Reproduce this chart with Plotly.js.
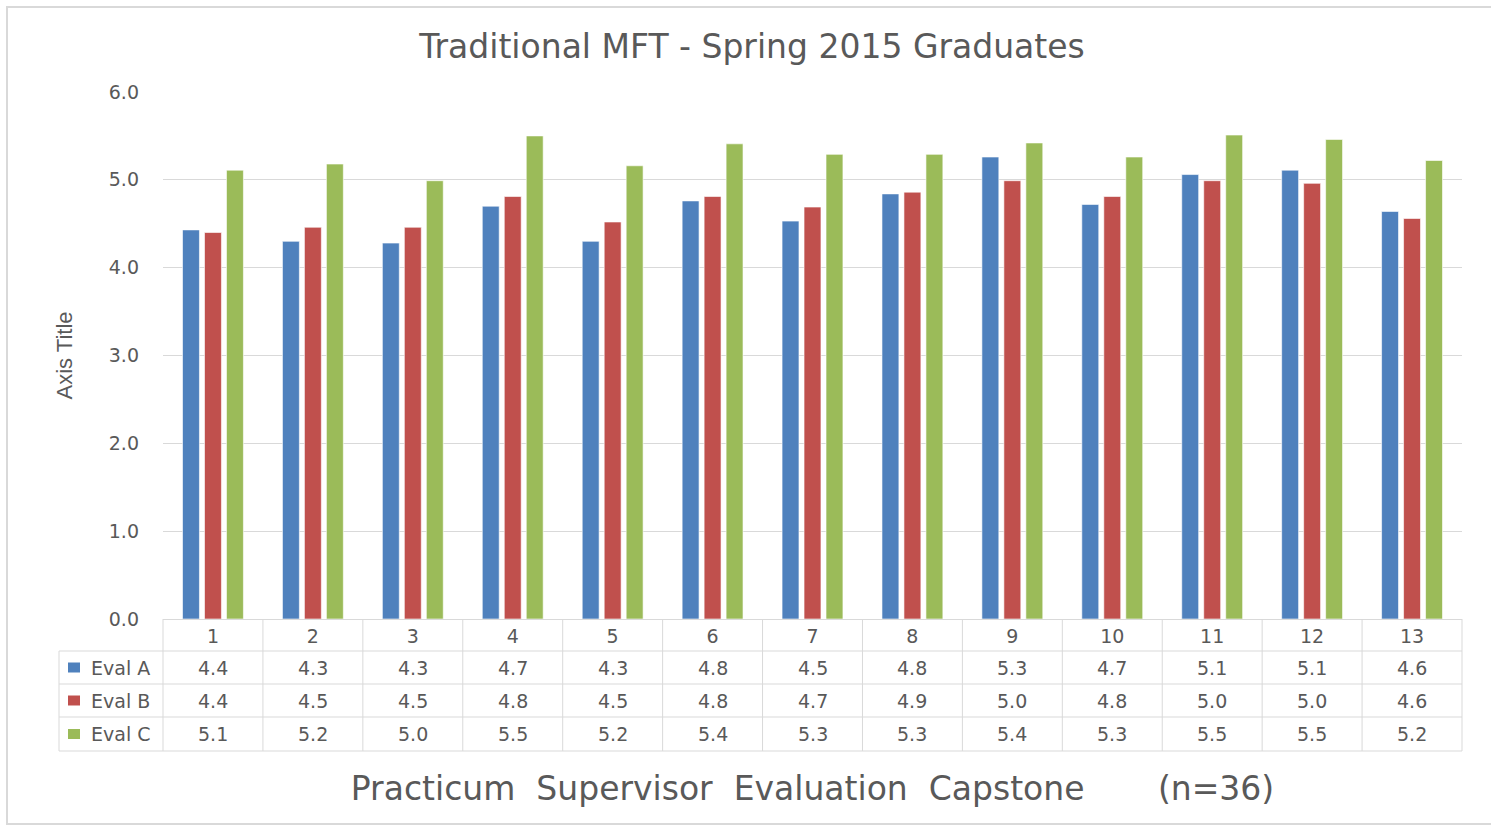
<!DOCTYPE html>
<html>
<head>
<meta charset="utf-8">
<script src="https://cdn.plot.ly/plotly-3.0.1.min.js"></script>
<style>html,body{margin:0;padding:0;background:#fff;}#chart{width:1491px;height:826px;}</style>
</head>
<body>
<div id="chart"></div>
<script>
// ---- data ----
var categories = ['1','2','3','4','5','6','7','8','9','10','11','12','13'];
var seriesNames = ['Eval A', 'Eval B', 'Eval C'];
var evalA = [4.43, 4.30, 4.28, 4.70, 4.30, 4.76, 4.53, 4.84, 5.26, 4.72, 5.06, 5.11, 4.64];
var evalB = [4.40, 4.46, 4.46, 4.81, 4.52, 4.81, 4.69, 4.86, 4.99, 4.81, 4.99, 4.96, 4.56];
var evalC = [5.11, 5.18, 4.99, 5.50, 5.16, 5.41, 5.29, 5.29, 5.42, 5.26, 5.51, 5.46, 5.22];
var seriesColors = ['#4F81BD', '#C0504D', '#9BBB59'];
var yTickVals = [0, 1, 2, 3, 4, 5, 6];

var W = 1491, H = 826;
var L = 163, R = 29, T = 92, B = 207;
var PW = W - L - R, PH = H - T - B;
function px(xp) { return (xp - L) / PW; }
function py(yp) { return (H - B - yp) / PH; }

var FONT = 'DejaVu Sans, Open Sans, sans-serif';
var TXT = '#595959';
var GRID = '#D9D9D9';

var allSeries = [evalA, evalB, evalC];
var traces = allSeries.map(function (vals, s) {
  return {
    type: 'bar',
    x: categories,
    y: vals,
    name: seriesNames[s],
    marker: { color: seriesColors[s], line: { color: 'rgba(255,255,255,0.6)', width: 1 } },
    hoverinfo: 'x+y+name'
  };
});

// table geometry (pixel rows)
var rowLines = [651, 684, 717, 751];
var rowCenters = [667.5, 700.5, 734];
var shapes = [];
rowLines.forEach(function (yp) {
  shapes.push({ type: 'line', xref: 'paper', yref: 'paper', x0: px(59), x1: 1, y0: py(yp), y1: py(yp),
    line: { color: GRID, width: 1 } });
});
for (var k = 0; k <= categories.length; k++) {
  shapes.push({ type: 'line', xref: 'paper', yref: 'paper', x0: k / categories.length, x1: k / categories.length,
    y0: 0, y1: py(751), line: { color: GRID, width: 1 } });
}
shapes.push({ type: 'line', xref: 'paper', yref: 'paper', x0: px(59), x1: px(59), y0: py(651), y1: py(751),
  line: { color: GRID, width: 1 } });
shapes.push({ type: 'rect', xref: 'paper', yref: 'paper', x0: px(7), x1: px(1500), y0: py(7), y1: py(824),
  line: { color: GRID, width: 2 }, fillcolor: 'rgba(0,0,0,0)' });

var annotations = [];
allSeries.forEach(function (vals, s) {
  shapes.push({ type: 'rect', xref: 'paper', yref: 'paper', x0: px(68), x1: px(80),
    y0: py(rowCenters[s] + 5), y1: py(rowCenters[s] - 5), line: { width: 0 }, fillcolor: seriesColors[s] });
  annotations.push({ xref: 'paper', yref: 'paper', x: px(89), y: py(rowCenters[s]), xanchor: 'left', yanchor: 'middle',
    text: seriesNames[s], showarrow: false, font: { family: FONT, size: 19, color: TXT } });
  vals.forEach(function (v, i) {
    annotations.push({ xref: 'x', yref: 'paper', x: i, y: py(rowCenters[s]), xanchor: 'center', yanchor: 'middle',
      text: v.toFixed(1), showarrow: false, font: { family: FONT, size: 19, color: TXT } });
  });
});

var layout = {
  width: W, height: H,
  margin: { l: L, r: R, t: T, b: B, pad: 0 },
  paper_bgcolor: '#ffffff', plot_bgcolor: '#ffffff',
  showlegend: false,
  barmode: 'group', bargap: 0.34, bargroupgap: 0.23,
  font: { family: FONT, color: TXT },
  title: { text: 'Traditional MFT - Spring 2015 Graduates', xref: 'container', x: 752 / W, xanchor: 'center',
    yref: 'container', y: 1 - 46 / H, yanchor: 'middle',
    font: { family: FONT, size: 33, color: TXT } },
  xaxis: {
    type: 'category', range: [-0.5, 12.5], fixedrange: true,
    showline: true, linecolor: GRID, linewidth: 1, showgrid: false, ticks: '',
    tickfont: { family: FONT, size: 19, color: TXT }, ticklabelstandoff: 0,
    title: { text: 'Practicum\u00A0 Supervisor\u00A0 Evaluation\u00A0 Capstone\u00A0\u00A0\u00A0\u00A0\u00A0\u00A0 (n=36)',
      font: { family: FONT, size: 33, color: TXT }, standoff: 131 },
    automargin: false
  },
  yaxis: {
    range: [0, 6], tickvals: yTickVals, tickformat: '.1f', fixedrange: true,
    showgrid: true, gridcolor: GRID, gridwidth: 1, zeroline: false, showline: false, ticks: '',
    tickfont: { family: FONT, size: 19, color: TXT }, ticklabelstandoff: 23,
    title: { text: 'Axis Title', font: { family: 'Liberation Sans Narrow, Arial Narrow, Liberation Sans, sans-serif', size: 22, color: TXT }, standoff: 30 },
    automargin: false
  },
  shapes: shapes,
  annotations: annotations
};

Plotly.newPlot('chart', traces, layout, { displayModeBar: false });
</script>
</body>
</html>
